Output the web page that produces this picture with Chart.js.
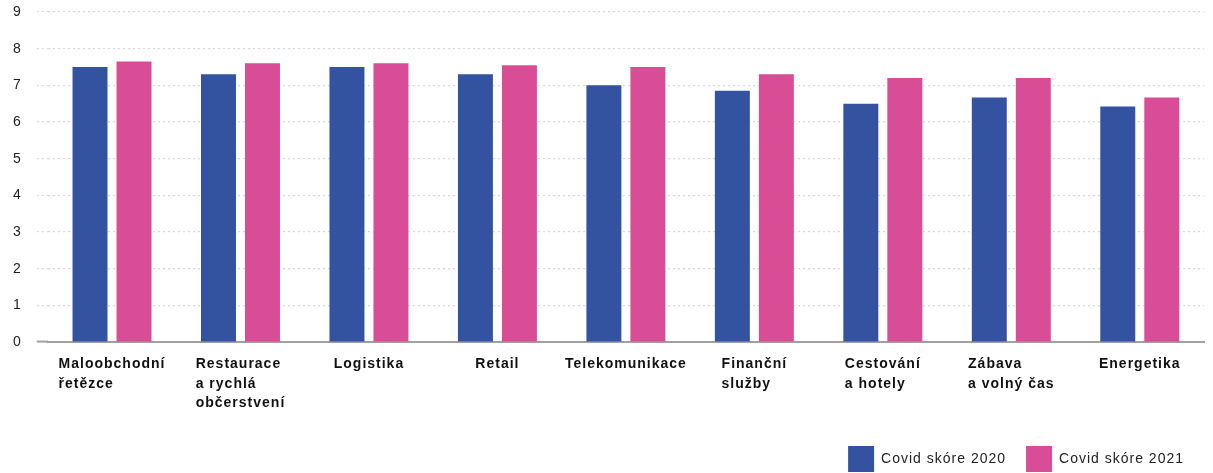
<!DOCTYPE html>
<html>
<head>
<meta charset="utf-8">
<script src="https://cdn.jsdelivr.net/npm/chart.js@4/dist/chart.umd.min.js"></script>
<style>
  html, body { margin: 0; padding: 0; background: #fff; }
  #wrap { width: 1213px; height: 473px; position: relative; }
</style>
</head>
<body>
<div id="wrap"><canvas id="chart"></canvas></div>
<script>
// categories (multi-line labels)
const categories = [
    ['Maloobchodní', 'řetězce'],
    ['Restaurace', 'a rychlá', 'občerstvení'],
    ['Logistika'],
    ['Retail'],
    ['Telekomunikace'],
    ['Finanční', 'služby'],
    ['Cestování', 'a hotely'],
    ['Zábava', 'a volný čas'],
    ['Energetika']
];
const score2020 = [7.5, 7.3, 7.5, 7.3, 7.0, 6.85, 6.5, 6.67, 6.42];
const score2021 = [7.65, 7.6, 7.6, 7.55, 7.5, 7.3, 7.2, 7.2, 6.67];
const yTicks = [0, 1, 2, 3, 4, 5, 6, 7, 8, 9];

const blue = '#3353a1';
const pink = '#d94d96';
const family = '"Liberation Sans", Arial, sans-serif';
const labelFont = 'bold 14px ' + family;

// the reference typeface runs wide, so add a bit of tracking to all canvas text
function track(chart) { chart.ctx.letterSpacing = '1px'; }
const tracking = {
    id: 'tracking',
    beforeUpdate: track,
    beforeLayout: track,
    beforeDraw: track
};

// x labels are drawn left-aligned inside a block centered on the category
const leftLabels = {
    id: 'leftLabels',
    afterDraw(chart) {
        const ctx = chart.ctx;
        const xs = chart.scales.x;
        ctx.save();
        ctx.font = labelFont;
        ctx.fillStyle = '#111';
        ctx.textAlign = 'left';
        ctx.textBaseline = 'alphabetic';
        categories.forEach((lines, i) => {
            const cx = xs.getPixelForValue(i);
            let w = 0;
            lines.forEach(l => { w = Math.max(w, ctx.measureText(l).width); });
            const left = cx - w / 2;
            lines.forEach((l, k) => {
                ctx.fillText(l, left, xs.top + 26 + k * 19.5);
            });
        });
        ctx.restore();
    }
};

new Chart(document.getElementById('chart'), {
    type: 'bar',
    data: {
        labels: categories.map(c => c.join(' ')),
        datasets: [
            {
                label: 'Covid skóre 2020',
                data: score2020,
                backgroundColor: blue,
                categoryPercentage: 0.685,
                barPercentage: 0.795
            },
            {
                label: 'Covid skóre 2021',
                data: score2021,
                backgroundColor: pink,
                categoryPercentage: 0.685,
                barPercentage: 0.795
            }
        ]
    },
    options: {
        responsive: true,
        maintainAspectRatio: false,
        animation: false,
        layout: { padding: { top: 12, left: -2, right: 9, bottom: -9 } },
        plugins: {
            tooltip: { enabled: false },
            legend: {
                position: 'bottom',
                align: 'end',
                labels: {
                    boxWidth: 26,
                    boxHeight: 26,
                    padding: 20,
                    color: '#222',
                    font: { family: family, size: 14 }
                }
            }
        },
        scales: {
            x: {
                grid: { display: false },
                border: { display: true, color: '#a0a0a0', width: 2 },
                ticks: { display: false },
                afterFit(scale) { scale.height = 84; }
            },
            y: {
                min: 0,
                max: 9,
                afterBuildTicks(scale) { scale.ticks = yTicks.map(v => ({ value: v })); },
                // tick padding is also added above the top label; drop that so the 9 line sits high
                afterFit(scale) { scale.paddingTop = 0; },
                border: { display: false, dash: [2, 3] },
                grid: {
                    color: ctx => ctx.tick && ctx.tick.value === 0 ? '#a0a0a0' : '#d9d9d9',
                    lineWidth: 1.2,
                    tickLength: 11,
                    tickColor: ctx => ctx.tick && ctx.tick.value === 0 ? '#a0a0a0' : '#d9d9d9',
                    tickWidth: ctx => ctx.tick && ctx.tick.value === 0 ? 2 : 1.2,
                    tickBorderDash: ctx => ctx.tick && ctx.tick.value === 0 ? [] : [2, 3]
                },
                ticks: {
                    padding: 15,
                    color: '#222',
                    font: { family: family, size: 14 }
                }
            }
        }
    },
    plugins: [tracking, leftLabels]
});
</script>
</body>
</html>
